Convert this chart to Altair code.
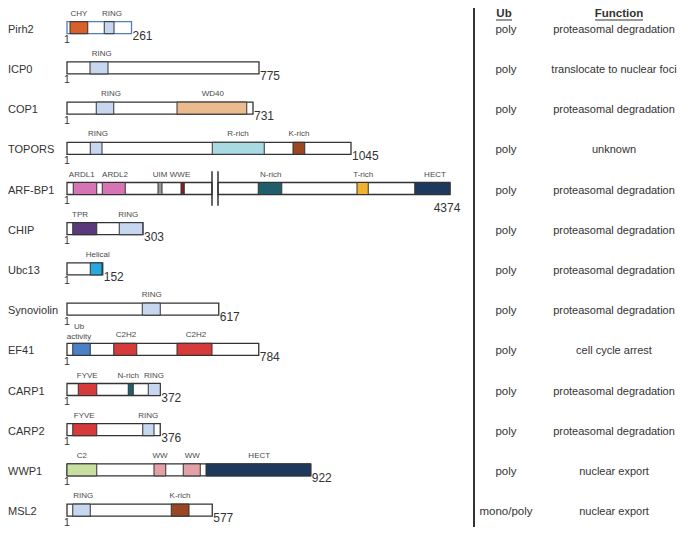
import altair as alt
import pandas as pd

# ---------------- data ----------------
proteins = ["Pirh2", "ICP0", "COP1", "TOPORS", "ARF-BP1", "CHIP", "Ubc13",
            "Synoviolin", "EF41", "CARP1", "CARP2", "WWP1", "MSL2"]
lengths = [261, 775, 731, 1045, 4374, 303, 152, 617, 784, 372, 376, 922, 577]
ub_type = ["poly"] * 12 + ["mono/poly"]
functions = ["proteasomal degradation", "translocate to nuclear foci",
             "proteasomal degradation", "unknown", "proteasomal degradation",
             "proteasomal degradation", "proteasomal degradation",
             "proteasomal degradation", "cell cycle arrest",
             "proteasomal degradation", "proteasomal degradation",
             "nuclear export", "nuclear export"]
headers = ["Ub", "Function"]

# drawn backbone segments (diagram units ~ residues; ARF-BP1 is drawn broken)
seg_protein = ["Pirh2", "ICP0", "COP1", "TOPORS", "ARF-BP1", "ARF-BP1", "CHIP",
               "Ubc13", "Synoviolin", "EF41", "CARP1", "CARP2", "WWP1", "MSL2"]
seg_start = [0, 0, 0, 0, 0, 604, 0, 0, 0, 0, 0, 0, 0, 0]
seg_end = [258, 768, 744, 1136, 580, 1532, 304, 143, 607, 767, 373, 373, 975, 581]
break_protein = ["ARF-BP1", "ARF-BP1"]
break_pos = [580, 604]

dom_protein = ["Pirh2", "Pirh2", "ICP0", "COP1", "COP1",
               "TOPORS", "TOPORS", "TOPORS",
               "ARF-BP1", "ARF-BP1", "ARF-BP1", "ARF-BP1", "ARF-BP1", "ARF-BP1", "ARF-BP1",
               "CHIP", "CHIP", "Ubc13", "Synoviolin",
               "EF41", "EF41", "EF41",
               "CARP1", "CARP1", "CARP1", "CARP2", "CARP2",
               "WWP1", "WWP1", "WWP1", "WWP1", "MSL2", "MSL2"]
dom_name = ["CHY", "RING", "RING", "RING", "WD40",
            "RING", "R-rich", "K-rich",
            "ARDL1", "ARDL2", "UIM", "WWE", "N-rich", "T-rich", "HECT",
            "TPR", "RING", "Helical", "RING",
            "Ub activity", "C2H2", "C2H2",
            "FYVE", "N-rich", "RING", "FYVE", "RING",
            "C2", "WW", "WW", "HECT", "RING", "K-rich"]
dom_start = [12, 149, 92, 117, 440,
             93, 581, 904,
             25, 141, 364, 456, 765, 1160, 1391,
             23, 209, 93, 301,
             23, 187, 440,
             45, 245, 325, 23, 303,
             0, 348, 465, 556, 23, 417]
dom_end = [83, 188, 164, 187, 719,
           140, 789, 951,
           119, 233, 380, 469, 859, 1205, 1532,
           119, 303, 140, 373,
           93, 279, 580,
           119, 265, 373, 119, 348,
           119, 395, 533, 975, 93, 488]
dom_label_pos = [48, 180, 139, 176, 583,
                 124, 684, 928,
                 59, 192, 372, 452, 815, 1185, 1472,
                 52, 245, 123, 339,
                 48, 236, 516,
                 81, 245, 348, 69, 325,
                 59, 372, 501, 769, 65, 452]

domain_colors = {
    "CHY": "#d8602a", "RING": "#c6d7ef", "WD40": "#ebbb8d", "R-rich": "#a9d9e3",
    "K-rich": "#9a4722", "ARDL1": "#d775b4", "ARDL2": "#d775b4", "UIM": "#9a9a9a",
    "WWE": "#8a1c1f", "N-rich": "#1f5e6b", "T-rich": "#f0b330", "HECT": "#1d3a5e",
    "TPR": "#5a3a7b", "Helical": "#27a8e1", "Ub activity": "#4b80c6",
    "C2H2": "#d63a3b", "FYVE": "#d63a3b", "C2": "#c8df9f", "WW": "#e3a0a7",
}

# ---------------- tables ----------------
row_of = {p: i for i, p in enumerate(proteins)}
INK = "#333333"
FONT = "Liberation Sans"

prot_df = pd.DataFrame({"protein": proteins, "length": lengths, "ub": ub_type,
                        "function": functions})
prot_df["row"] = prot_df["protein"].map(row_of)

seg_df = pd.DataFrame({"protein": seg_protein, "start": seg_start, "end": seg_end})
seg_df["row"] = seg_df["protein"].map(row_of)
seg_df["stroke"] = [("#4f7cbf" if p == "Pirh2" else INK) for p in seg_protein]

ends = seg_df.groupby("protein")["end"].max()
prot_df["end"] = prot_df["protein"].map(ends)
prot_df["one"] = "1"
prot_df["zero"] = 0

dom_df = pd.DataFrame({"protein": dom_protein, "name": dom_name, "start": dom_start,
                       "end": dom_end, "label_pos": dom_label_pos})
dom_df["row"] = dom_df["protein"].map(row_of)
dom_df["color"] = dom_df["name"].map(domain_colors)
dom_df["label"] = dom_df["name"].str.replace("Ub activity", "Ub\nactivity")

brk_df = pd.DataFrame({"protein": break_protein, "pos": break_pos})
brk_df["row"] = brk_df["protein"].map(row_of)
brk_df["top"] = brk_df["row"] - 0.43
brk_df["bot"] = brk_df["row"] + 0.43

# ---------------- scales ----------------
W, H = 669, 519
X0, PX = 59, 4.0           # plot x of residue 0, residues per pixel
Y0, ROW = 19.7, 40.2       # plot y of first row, pixels per row
xs = alt.Scale(domain=[-X0 * PX, (W - X0) * PX], nice=False, zero=False, padding=0)
ys = alt.Scale(domain=[-Y0 / ROW, (H - Y0) / ROW], nice=False, zero=False,
               reverse=True, padding=0)

X = lambda f: alt.X(f, type="quantitative", scale=xs, axis=None)
Y = lambda f: alt.Y(f, type="quantitative", scale=ys, axis=None)

backbone = alt.Chart(seg_df).mark_bar(orient="horizontal", size=12, fill="white",
                                      strokeWidth=1.3).encode(
    x=X("start"), x2="end", y=Y("row"), stroke=alt.Stroke("stroke:N", scale=None))

domains = alt.Chart(dom_df).mark_bar(orient="horizontal", size=12, stroke=INK,
                                     strokeWidth=1).encode(
    x=X("start"), x2="end", y=Y("row"), fill=alt.Fill("color:N", scale=None))

breaks = alt.Chart(brk_df).mark_rule(color=INK, strokeWidth=1.5).encode(
    x=X("pos"), y=Y("top"), y2="bot")

dom_labels = alt.Chart(dom_df).transform_filter(
    alt.datum.name != "Ub activity").mark_text(
    fontSize=8, font=FONT, color="#4a4a4a", baseline="bottom", dy=-10).encode(
    x=X("label_pos"), y=Y("row"), text="label")

dom_labels2 = alt.Chart(dom_df).transform_filter(
    alt.datum.name == "Ub activity").mark_text(
    fontSize=8, font=FONT, color="#4a4a4a", baseline="bottom", dy=-18,
    lineBreak="\n", lineHeight=9.5).encode(
    x=X("label_pos"), y=Y("row"), text="label")

ones = alt.Chart(prot_df).mark_text(fontSize=10.5, font=FONT, color=INK, dy=12.5,
                                    baseline="middle").encode(
    x=X("zero"), y=Y("row"), text="one")

end_labels = alt.Chart(prot_df).transform_filter(
    alt.datum.protein != "ARF-BP1").mark_text(
    fontSize=12, font=FONT, color=INK, align="left", dx=1, dy=8,
    baseline="middle").encode(x=X("end"), y=Y("row"), text="length:N")

arf_end = alt.Chart(prot_df).transform_filter(
    alt.datum.protein == "ARF-BP1").mark_text(
    fontSize=12, font=FONT, color=INK, align="center", dx=-3, dy=19,
    baseline="middle").encode(x=X("end"), y=Y("row"), text="length:N")

names = alt.Chart(prot_df).mark_text(fontSize=11, font=FONT, color=INK, align="left",
                                     baseline="middle", dy=2).encode(
    x=alt.value(0), y=Y("row"), text="protein")

ub_col = alt.Chart(prot_df).mark_text(fontSize=11.5, font=FONT, color=INK,
                                      baseline="middle", dy=2).encode(
    x=alt.value(498), y=Y("row"), text="ub")

fn_col = alt.Chart(prot_df).mark_text(fontSize=11, font=FONT, color=INK,
                                      baseline="middle", dy=2).encode(
    x=alt.value(606), y=Y("row"), text="function")

hdr_df = pd.DataFrame({"h": headers, "cx": [496, 611], "x1": [488, 587], "x2": [504, 635]})
hdr_text = alt.Chart(hdr_df).mark_text(fontSize=11.5, font=FONT, fontWeight="bold",
                                       color=INK, baseline="top").encode(
    x=alt.X("cx:Q", scale=None), y=alt.value(0), text="h")
hdr_line = alt.Chart(hdr_df).mark_rule(color=INK, strokeWidth=1).encode(
    x=alt.X("x1:Q", scale=None), x2="x2:Q", y=alt.value(12))

divider = alt.Chart(hdr_df.head(1)).mark_rule(color=INK, strokeWidth=2).encode(
    x=alt.value(466), y=alt.value(0), y2=alt.value(521))

chart = alt.layer(
    backbone, domains, breaks, dom_labels, dom_labels2, ones, end_labels, arf_end,
    names, ub_col, fn_col, hdr_text, hdr_line, divider
).properties(
    width=W, height=H, padding=0, autosize=alt.AutoSizeParams(type="none"),
    background="white"
).configure_view(stroke=None)

chart.save("out.html", embed_options={"renderer": "svg", "actions": False})
